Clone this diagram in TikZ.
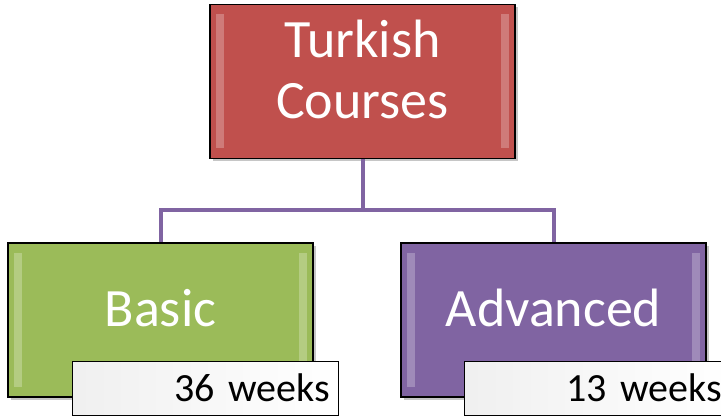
\documentclass[tikz,border=0pt]{standalone}
\usepackage{fontspec}
\setmainfont{Carlito}
\usetikzlibrary{shadows}

\definecolor{red_fill}{HTML}{C0504D}
\definecolor{green_fill}{HTML}{9BBB59}
\definecolor{purple_fill}{HTML}{8064A2}

\begin{document}
\begin{tikzpicture}[x=0.5pt,y=-0.5pt,
	course_node/.style={rectangle,draw=black,line width=0.6pt,text=white,align=center,
		minimum width=152.5pt,minimum height=77pt,inner sep=0pt,text depth=12pt,
		font=\fontsize{27}{30.5}\selectfont,
		drop shadow={opacity=0.45,shadow xshift=1.5pt,shadow yshift=-1.5pt},
		path picture={
			\fill[white,opacity=0.25] ([shift={(3pt,-5pt)}]path picture bounding box.north west) rectangle ([shift={(7pt,5pt)}]path picture bounding box.south west);
			\fill[white,opacity=0.25] ([shift={(-7pt,-5pt)}]path picture bounding box.north east) rectangle ([shift={(-3pt,5pt)}]path picture bounding box.south east);
		}},
	weeks_node/.style={rectangle,draw=black,line width=0.5pt,left color=gray!12,right color=white,
		minimum width=133pt,minimum height=27pt,inner sep=4pt,text width=125pt,align=right,
		font=\fontsize{20}{23}\selectfont},
	link/.style={draw=purple_fill,line width=2pt}]
	\useasboundingbox (0,0) rectangle (721,416);

	\node[course_node,fill=red_fill] (courses) at (362.5,81.5) {Turkish\\Courses};
	\node[course_node,fill=green_fill] (basic) at (160.5,320) {Basic};
	\node[course_node,fill=purple_fill] (advanced) at (553.5,320) {Advanced};

	\coordinate (joint) at (362.5,210);
	\draw[link] (courses) -- (joint);
	\draw[link] (joint) -| (basic);
	\draw[link] (joint) -| (advanced);

	\node[weeks_node] (basic_weeks) at (205,388) {36 weeks};
	\node[weeks_node] (advanced_weeks) at (597,388) {13 weeks};
\end{tikzpicture}
\end{document}
